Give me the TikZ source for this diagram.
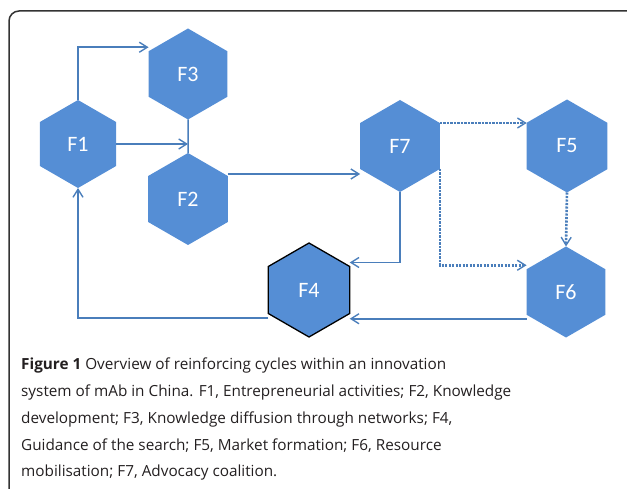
\documentclass[tikz,border=0pt]{standalone}
\usepackage{fontspec}
\setmainfont{Open Sans}
\newfontfamily\hexfont{Carlito}
\usetikzlibrary{shapes.geometric,arrows.meta}
\definecolor{hexblue}{HTML}{558ED5}
\definecolor{arrblue}{HTML}{4A7EBB}
\definecolor{framegray}{HTML}{333333}
\definecolor{captext}{HTML}{231F20}
\begin{document}
\begin{tikzpicture}[x=1pt,y=-1pt,
  hexa/.style={regular polygon,regular polygon sides=6,shape border rotate=30,
    fill=hexblue,draw=none,inner sep=0pt,outer sep=0pt,minimum size=92pt,
    text=white,font=\hexfont\fontsize{22}{22}\selectfont},
  conn/.style={draw=arrblue,line width=1.5pt,-{Straight Barb[length=8pt,width=10pt,line width=1.4pt]}},
  plain/.style={draw=arrblue,line width=1.5pt},
  dotconn/.style={draw=arrblue,line width=2.6pt,dash pattern=on 2.2pt off 1.3pt,
    -{Straight Barb[length=8pt,width=10pt,line width=1.4pt]}}]
\clip (0,0) rectangle (627,489);
\draw[framegray,line width=1.5pt,rounded corners=10pt] (9,500) -- (9,11) -- (640,11);
\node[hexa,minimum size=88pt] (f1) at (78,144) {F1};
\node[hexa,minimum size=91pt] (f3) at (188,74) {F3};
\node[hexa] (f2) at (188,199) {F2};
\node[hexa] (f7) at (400,146) {F7};
\node[hexa,minimum size=93pt] (f5) at (567,146) {F5};
\node[hexa,minimum size=91pt] (f6) at (566,292) {F6};
\node[hexa,draw=black,line width=1.3pt,minimum size=94pt] (f4) at (309,290) {F4};
\coordinate (f3in) at ([yshift=4pt]f3.150);
\draw[conn] (f1.north) |- (f3in);
\draw[plain] (f3.south) -- (f2.north);
\draw[conn] (f1.east) -- (f1.east -| f3.south);
\draw[conn] ([yshift=2pt]f2.30) -- ([yshift=2pt]f2.30 -| f7.210);
\draw[conn] (f7.south) |- ([yshift=4pt]f4.30);
\draw[dotconn] (f7.30) -- (f7.30 -| f5.150);
\draw[dotconn] (f7.330) |- ([yshift=4pt]f6.150);
\draw[dotconn] (f5.south) -- (f6.north);
\draw[conn] ([yshift=-4pt]f6.210) -- ([yshift=-4pt]f6.210 -| f4.330);
\draw[conn] ([yshift=-4.5pt]f4.210) -| (f1.south);
\node[anchor=north west,inner sep=0pt,align=left,font=\fontsize{15.3}{26.75}\selectfont,text=captext] (cap) at (21,358)
{\textbf{Figure 1} Overview of reinforcing cycles within an innovation\\
system of mAb in China. F1, Entrepreneurial activities; F2, Knowledge\\
development; F3, Knowledge diffusion through networks; F4,\\
Guidance of the search; F5, Market formation; F6, Resource\\
mobilisation; F7, Advocacy coalition.};
\end{tikzpicture}
\end{document}
